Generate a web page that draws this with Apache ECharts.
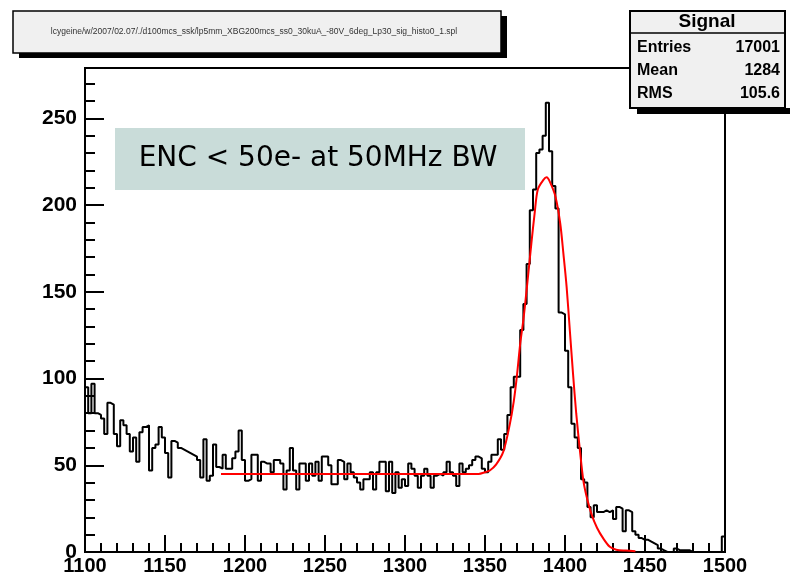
<!DOCTYPE html>
<html>
<head>
<meta charset="utf-8">
<script src="https://cdn.jsdelivr.net/npm/echarts@6/dist/echarts.min.js"></script>
<style>
  html, body { margin: 0; padding: 0; background: #fff; }
  #chart { width: 790px; height: 576px; }
</style>
</head>
<body>
<div id="chart"></div>
<script>
// histogram: 200 bins of width 2 from 1100 to 1500
var binStart = 1100;
var binWidth = 2;
var counts = [
    95, 80, 97, 80, 79, 77, 68, 86, 85, 68, 61, 76, 73, 68, 58, 66, 52, 69, 72, 73,
    47, 60, 62, 72, 66, 57, 43, 64, 63, 60, 59, 58, 57, 56, 55, 53, 43, 65, 41, 44,
    62, 49, 48, 56, 48, 48, 54, 58, 70, 53,
    41, 42, 56, 56, 41, 52, 51, 51, 46, 53, 53, 51, 36, 47, 60, 47, 36, 51, 51, 41,
    51, 44, 52, 41, 55, 55, 50, 39, 39, 53, 52, 42, 51, 46, 43, 40, 36, 42, 42, 46,
    36, 46, 52, 52, 35, 52, 34, 46, 37, 42, 38, 51, 48, 44, 37, 44, 48, 44, 37, 44,
    45, 44, 46, 52, 46, 44, 38, 51, 46, 48, 50, 53, 55, 54, 48,
    46, 52, 56, 56, 65, 59, 68, 79, 95, 101, 101, 128, 143, 166, 197, 209, 230, 232, 240, 259,
    231, 211, 198, 138, 137, 116, 95, 74, 66, 60,
    42, 40, 26, 20, 27, 23, 23, 24, 23, 24, 19, 26, 25, 12, 24, 23, 12, 10, 8, 7,
    7, 6, 5, 4, 2, 1, 0, 0, 0, 2, 1, 1, 1, 1, 0, 0, 0, 0, 0, 0,
    0, 0, 0, 0, 9
];

// red fit curve
var fitX = [1185, 1346, 1350, 1353, 1357, 1361.5, 1365.5, 1368, 1370, 1372, 1374, 1376, 1379, 1381, 1383,
    1386.5, 1388.5, 1390.5, 1394, 1397, 1399, 1401, 1403, 1405, 1407, 1409.5, 1411.5, 1413.5, 1416.5,
    1420, 1424, 1428, 1432, 1438, 1444];
var fitY = [45, 45, 46, 47, 50.5, 58, 73.6, 87, 102, 120, 134, 151, 178, 195, 209,
    214.5, 216, 213.5, 205, 189.5, 172, 153, 128, 103, 80, 57, 41, 32, 22,
    14, 7.7, 3, 1.3, 0.8, 0.5];

var statNames = ["Entries", "Mean", "RMS"];
var statValues = ["17001", "1284", "105.6"];

var histData = [];
for (var i = 0; i < counts.length; i++) {
    histData.push([binStart + i * binWidth, counts[i]]);
}
histData.push([binStart + counts.length * binWidth, counts[counts.length - 1]]);

var fitData = fitX.map(function (x, i) { return [x, fitY[i]]; });

var statsGraphics = [];
statNames.forEach(function (name, i) {
    statsGraphics.push({
        type: "text", x: 637, y: 48 + i * 23, z: 30,
        style: {text: name, font: "bold 16px 'Liberation Sans'", fill: "#000", verticalAlign: "middle"}
    });
    statsGraphics.push({
        type: "text", x: 780, y: 48 + i * 23, z: 30,
        style: {text: statValues[i], font: "bold 16px 'Liberation Sans'", fill: "#000", align: "right", verticalAlign: "middle"}
    });
});

var chart = echarts.init(document.getElementById("chart"));
chart.setOption({
    animation: false,
    grid: {left: 85, right: 65, top: 68, bottom: 24, show: true, borderColor: "#000", borderWidth: 2, backgroundColor: "#fff"},
    xAxis: {
        type: "value", min: 1100, max: 1500, interval: 50,
        axisLine: {lineStyle: {color: "#000", width: 2}},
        axisTick: {inside: true, length: 17, lineStyle: {color: "#000", width: 2}},
        minorTick: {show: true, splitNumber: 5, length: 9, lineStyle: {color: "#000", width: 2}},
        splitLine: {show: false},
        axisLabel: {
            fontFamily: "Liberation Sans", fontWeight: "bold", color: "#000", fontSize: 20, margin: 4,
            formatter: function (v) { return String(v); }
        }
    },
    yAxis: [{
        type: "value", min: 0, max: 279, interval: 50,
        axisLine: {show: true, lineStyle: {color: "#000", width: 2}},
        axisTick: {show: true, inside: true, length: 19, lineStyle: {color: "#000", width: 2}},
        splitLine: {show: false},
        axisLabel: {
            fontFamily: "Liberation Sans", fontWeight: "bold", color: "#000", fontSize: 21, margin: 8,
            formatter: function (v) { return v % 50 === 0 ? String(v) : ""; }
        }
    }, {
        type: "value", min: 0, max: 279, interval: 10, position: "left",
        axisLine: {show: false},
        axisTick: {show: true, inside: true, length: 10, lineStyle: {color: "#000", width: 2}},
        splitLine: {show: false},
        axisLabel: {show: false}
    }],
    series: [{
        type: "line", step: "end", data: histData, symbol: "none",
        lineStyle: {color: "#000", width: 2}, z: 3
    }, {
        type: "line", data: fitData, symbol: "none", smooth: 0.3,
        lineStyle: {color: "#ff0000", width: 2}, z: 4
    }],
    graphic: [
        // file name box
        {type: "rect", shape: {x: 19, y: 16, width: 488, height: 42}, style: {fill: "#000"}, z: 20},
        {type: "rect", shape: {x: 13, y: 11, width: 488, height: 42}, style: {fill: "#f0f0f0", stroke: "#000", lineWidth: 1.5}, z: 21},
        {type: "text", x: 254, y: 32, z: 22,
            style: {text: "lcygeine/w/2007/02.07/./d100mcs_ssk/lp5mm_XBG200mcs_ss0_30kuA_-80V_6deg_Lp30_sig_histo0_1.spl",
                font: "8.5px 'Liberation Sans'", fill: "#333", align: "center", verticalAlign: "middle"}},
        // stats box
        {type: "rect", shape: {x: 637, y: 108, width: 160, height: 6}, style: {fill: "#000"}, z: 28},
        {type: "rect", shape: {x: 630, y: 11, width: 155, height: 97}, style: {fill: "#f0f0f0", stroke: "#000", lineWidth: 2}, z: 29},
        {type: "line", shape: {x1: 630, y1: 33, x2: 785, y2: 33}, style: {stroke: "#000", lineWidth: 1.5}, z: 30},
        {type: "text", x: 707, y: 22, z: 30,
            style: {text: "Signal", font: "bold 19px 'Liberation Sans'", fill: "#000", align: "center", verticalAlign: "middle"}},
        // annotation
        {type: "rect", shape: {x: 115, y: 128, width: 410, height: 62}, style: {fill: "#c9dcd9"}, z: 25},
        {type: "text", x: 318, y: 159, z: 26,
            style: {text: "ENC < 50e- at 50MHz BW", font: "28px 'DejaVu Sans'", fill: "#000", align: "center", verticalAlign: "middle"}}
    ].concat(statsGraphics)
});
</script>
</body>
</html>
